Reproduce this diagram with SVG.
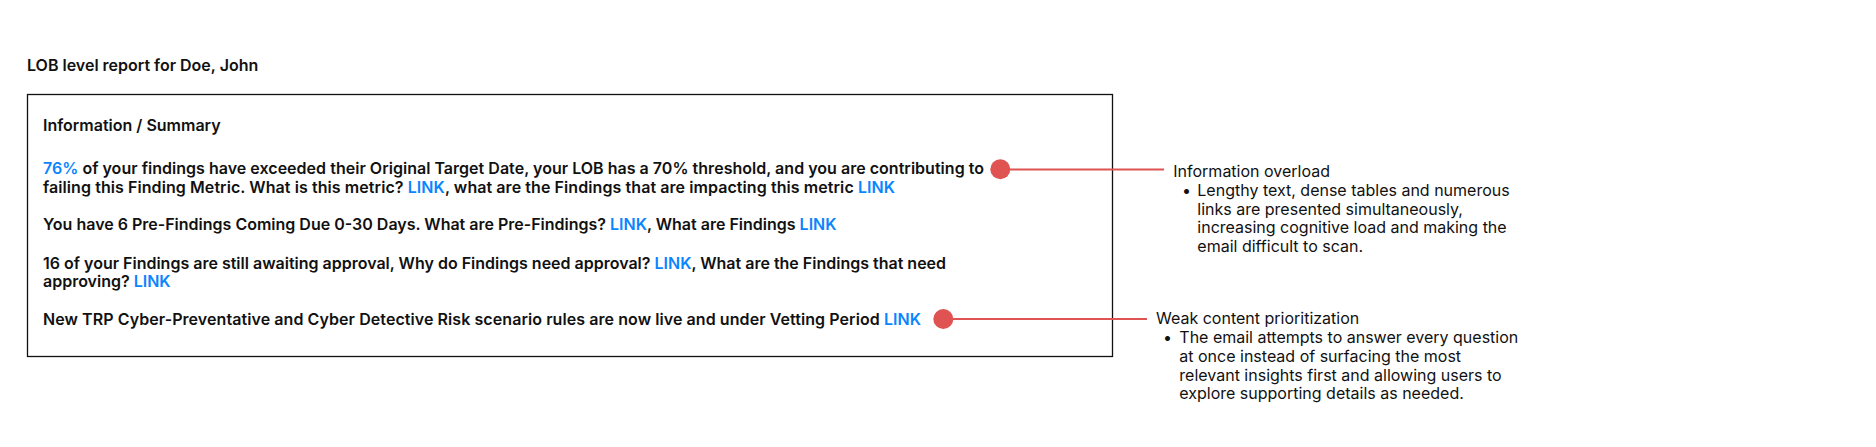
<svg xmlns="http://www.w3.org/2000/svg" width="1876" height="447" viewBox="0 0 1876 447">
  <style>
    .b { font-family: Inter, "Liberation Sans", sans-serif; font-size: 16px; font-weight: 600; fill: #111111; }
    .r { font-family: Inter, "Liberation Sans", sans-serif; font-size: 16px; font-weight: 400; fill: #111111; }
    .lk { fill: #0A84FF; }
    .box { fill: #ffffff; stroke: #111111; stroke-width: 1.3; }
    .conn { stroke: #E05353; stroke-width: 2; fill: none; }
    .dot { fill: #E05353; }
  </style>
  <rect width="1876" height="447" fill="#ffffff"/>
  <g id="title">
    <text class="b" x="27" y="70.5">LOB level report for Doe, John</text>
  </g>
  <g id="report">
    <rect class="box" x="27.5" y="94.5" width="1085" height="262"/>
    <text class="b" x="43" y="130.5">Information / Summary</text>
    <text class="b" x="43" y="173.5" textLength="941" lengthAdjust="spacing"><tspan class="lk">76%</tspan> of your findings have exceeded their Original Target Date, your LOB has a 70% threshold, and you are contributing to</text>
    <text class="b" x="43" y="192.5" textLength="852" lengthAdjust="spacing">failing this Finding Metric. What is this metric? <tspan class="lk">LINK</tspan>, what are the Findings that are impacting this metric <tspan class="lk">LINK</tspan></text>
    <text class="b" x="43" y="229.5">You have 6 Pre-Findings Coming Due 0-30 Days. What are Pre-Findings? <tspan class="lk">LINK</tspan>, What are Findings <tspan class="lk">LINK</tspan></text>
    <text class="b" x="43" y="268.5">16 of your Findings are still awaiting approval, Why do Findings need approval? <tspan class="lk">LINK</tspan>, What are the Findings that need</text>
    <text class="b" x="43" y="287">approving? <tspan class="lk">LINK</tspan></text>
    <text class="b" x="43" y="325" textLength="878" lengthAdjust="spacing">New TRP Cyber-Preventative and Cyber Detective Risk scenario rules are now live and under Vetting Period <tspan class="lk">LINK</tspan></text>
  </g>
  <g id="connectors">
    <line class="conn" x1="1000" y1="169.5" x2="1164" y2="169.5"/>
    <circle class="dot" cx="1000.3" cy="169.3" r="10"/>
    <line class="conn" x1="943" y1="319" x2="1147" y2="319"/>
    <circle class="dot" cx="943.3" cy="319" r="10"/>
  </g>
  <g id="note-overload">
    <text class="r" x="1173.3" y="176.7">Information overload</text>
    <text class="r" x="1182" y="196">•</text>
    <text class="r" x="1197.3" y="196">Lengthy text, dense tables and numerous</text>
    <text class="r" x="1197.3" y="214.7">links are presented simultaneously,</text>
    <text class="r" x="1197.3" y="233.3">increasing cognitive load and making the</text>
    <text class="r" x="1197.3" y="252">email difficult to scan.</text>
  </g>
  <g id="note-prioritization">
    <text class="r" x="1156" y="324">Weak content prioritization</text>
    <text class="r" x="1163" y="343.3">•</text>
    <text class="r" x="1179.3" y="343.3">The email attempts to answer every question</text>
    <text class="r" x="1179.3" y="362">at once instead of surfacing the most</text>
    <text class="r" x="1179.3" y="380.7">relevant insights first and allowing users to</text>
    <text class="r" x="1179.3" y="399.4">explore supporting details as needed.</text>
  </g>
</svg>
